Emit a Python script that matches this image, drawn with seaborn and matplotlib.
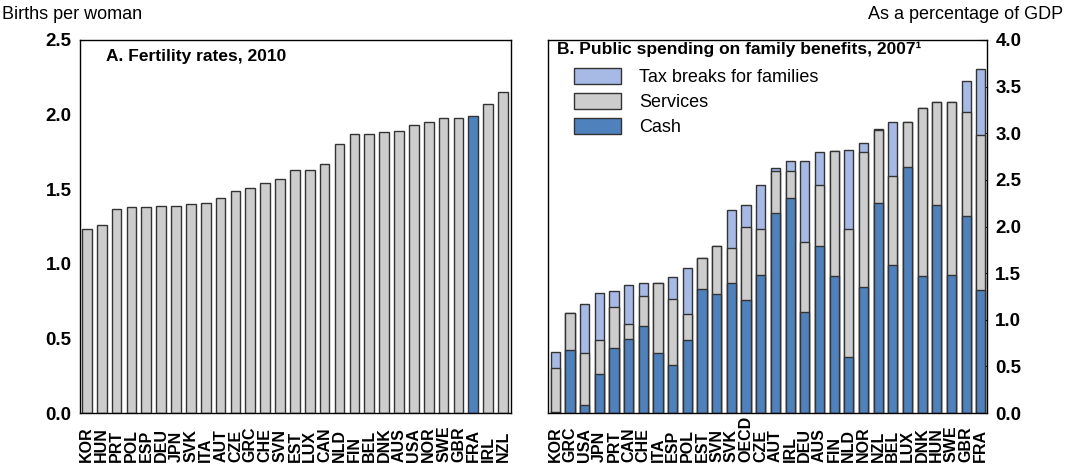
"""
Fertility rates (2010) and public spending on family benefits (2007).
Two-panel bar chart, OECD style.
"""

import pandas as pd
import matplotlib
matplotlib.use('Agg')
import matplotlib.pyplot as plt
from matplotlib.patches import Patch
import seaborn as sns

sns.set_style('white')
plt.rcParams['font.family'] = ['Liberation Sans', 'DejaVu Sans']
plt.rcParams['text.color'] = 'black'
plt.rcParams['xtick.color'] = 'black'
plt.rcParams['ytick.color'] = 'black'

# ------------------------------------------------------------
# Data
# ------------------------------------------------------------
fert_countries = ['KOR', 'HUN', 'PRT', 'POL', 'ESP', 'DEU', 'JPN', 'SVK', 'ITA', 'AUT',
                  'CZE', 'GRC', 'CHE', 'SVN', 'EST', 'LUX', 'CAN', 'NLD', 'FIN', 'BEL',
                  'DNK', 'AUS', 'USA', 'NOR', 'SWE', 'GBR', 'FRA', 'IRL', 'NZL']
fert_rates = [1.23, 1.26, 1.37, 1.38, 1.38, 1.39, 1.39, 1.40, 1.41, 1.44,
              1.49, 1.51, 1.54, 1.57, 1.63, 1.63, 1.67, 1.80, 1.87, 1.87,
              1.88, 1.89, 1.93, 1.95, 1.98, 1.98, 1.99, 2.07, 2.15]

spend_countries = ['KOR', 'GRC', 'USA', 'JPN', 'PRT', 'CAN', 'CHE', 'ITA', 'ESP', 'POL',
                   'EST', 'SVN', 'SVK', 'OECD', 'CZE', 'AUT', 'IRL', 'DEU', 'AUS', 'FIN',
                   'NLD', 'NOR', 'NZL', 'BEL', 'LUX', 'DNK', 'HUN', 'SWE', 'GBR', 'FRA']
cash = [0.01, 0.68, 0.09, 0.42, 0.70, 0.79, 0.93, 0.64, 0.51, 0.78,
        1.33, 1.28, 1.39, 1.21, 1.48, 2.14, 2.31, 1.08, 1.79, 1.47,
        0.60, 1.35, 2.25, 1.59, 2.64, 1.47, 2.23, 1.48, 2.11, 1.32]
services = [0.47, 0.39, 0.55, 0.36, 0.44, 0.16, 0.32, 0.75, 0.71, 0.28,
            0.33, 0.51, 0.38, 0.78, 0.49, 0.45, 0.28, 0.75, 0.65, 1.34,
            1.37, 1.45, 0.78, 0.95, 0.48, 1.80, 1.10, 1.86, 1.12, 1.66]
tax_breaks = [0.17, 0.00, 0.53, 0.51, 0.17, 0.42, 0.14, 0.00, 0.24, 0.50,
              0.00, 0.00, 0.41, 0.24, 0.48, 0.04, 0.11, 0.87, 0.36, 0.00,
              0.85, 0.10, 0.02, 0.58, 0.00, 0.00, 0.00, 0.00, 0.33, 0.71]

GREY = '#cdcdcd'
BLUE = '#4f81bd'
LIGHT = '#a7b9e5'
EDGE = '#333333'

fert = pd.DataFrame({'country': fert_countries, 'rate': fert_rates})
spend = pd.DataFrame({'country': spend_countries, 'cash': cash,
                      'services': services, 'tax': tax_breaks})
spend['mid'] = spend['cash'] + spend['services']
spend['total'] = spend['mid'] + spend['tax']

fig = plt.figure(figsize=(10.68, 4.65), dpi=100)
ax1 = fig.add_axes([0.0749, 0.1118, 0.4036, 0.8022])
ax2 = fig.add_axes([0.5131, 0.1118, 0.4110, 0.8022])

# ------------------------------------------------------------
# Panel A
# ------------------------------------------------------------
pal = {c: (BLUE if c == 'FRA' else GREY) for c in fert_countries}
sns.barplot(data=fert, x='country', y='rate', hue='country', palette=pal,
            legend=False, width=0.65, edgecolor=EDGE, linewidth=1.0,
            saturation=1, ax=ax1)
ax1.set_ylim(0, 2.5)
ax1.set_xlim(-0.46, len(fert_countries) - 1 + 0.54)
ax1.set_yticks([0, 0.5, 1.0, 1.5, 2.0, 2.5])
ax1.set_yticklabels([f'{v:.1f}' for v in ax1.get_yticks()])
ax1.text(0.06, 0.955, 'A. Fertility rates, 2010', transform=ax1.transAxes,
         fontsize=12.5, fontweight='bold', va='center', ha='left')

# ------------------------------------------------------------
# Panel B (stacked by overdrawing cumulative totals)
# ------------------------------------------------------------
for col, colour in [('total', LIGHT), ('mid', GREY), ('cash', BLUE)]:
    sns.barplot(data=spend, x='country', y=col, color=colour, width=0.62,
                edgecolor=EDGE, linewidth=1.0, saturation=1, ax=ax2)
ax2.set_ylim(0, 4.0)
ax2.set_xlim(-0.5, len(spend_countries) - 1 + 0.42)
ax2.yaxis.tick_right()
ax2.set_yticks([0, 0.5, 1.0, 1.5, 2.0, 2.5, 3.0, 3.5, 4.0])
ax2.set_yticklabels([f'{v:.1f}' for v in ax2.get_yticks()])
ax2.text(0.02, 0.975, 'B. Public spending on family benefits, 2007\u00b9',
         transform=ax2.transAxes, fontsize=12.5, fontweight='bold',
         va='center', ha='left')

handles = [Patch(facecolor=LIGHT, edgecolor=EDGE, label='Tax breaks for families'),
           Patch(facecolor=GREY, edgecolor=EDGE, label='Services'),
           Patch(facecolor=BLUE, edgecolor=EDGE, label='Cash')]
ax2.legend(handles=handles, loc='upper left', bbox_to_anchor=(0.06, 0.925),
           frameon=False, fontsize=13, handlelength=2.6, handleheight=1.0,
           handletextpad=1.0, labelspacing=0.38, borderpad=0, borderaxespad=0)

# ------------------------------------------------------------
# Shared styling
# ------------------------------------------------------------
for ax in (ax1, ax2):
    ax.set_xlabel('')
    ax.set_ylabel('')
    for sp in ax.spines.values():
        sp.set_visible(True)
        sp.set_color('black')
        sp.set_linewidth(1.0)
    ax.tick_params(axis='y', direction='in', length=5, width=0.8,
                   labelsize=13.5, pad=6)
    ax.tick_params(axis='x', length=0, labelsize=11.5, pad=35, rotation=90)
    for lbl in ax.get_xticklabels():
        lbl.set_fontweight('bold')
        lbl.set_va('bottom')
    for lbl in ax.get_yticklabels():
        lbl.set_fontweight('bold')

fig.text(0.002, 0.968, 'Births per woman', fontsize=13, va='center', ha='left')
fig.text(0.995, 0.968, 'As a percentage of GDP', fontsize=13, va='center', ha='right')

fig.savefig('out.png', dpi=100)
